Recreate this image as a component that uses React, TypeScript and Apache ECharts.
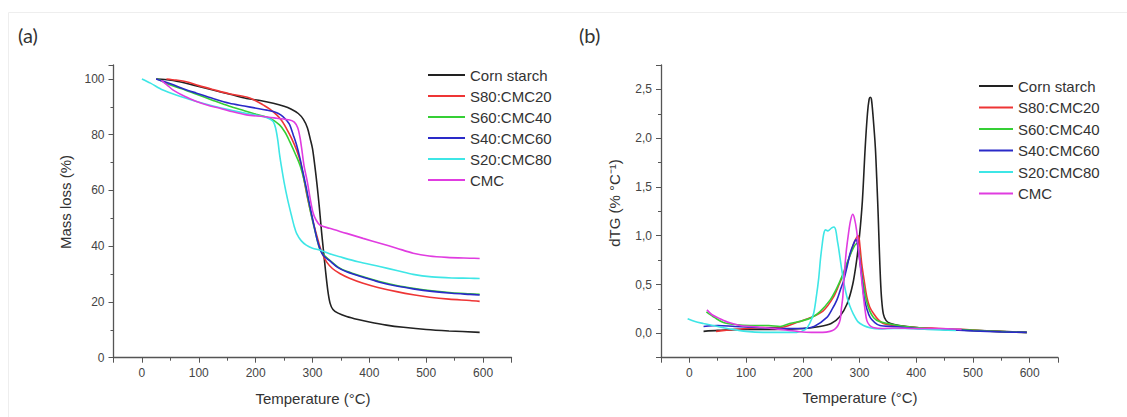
import React, { useEffect, useRef } from "react";
import * as echarts from "echarts";

// ---------- data ----------
const seriesNames = ["Corn starch", "S80:CMC20", "S60:CMC40", "S40:CMC60", "S20:CMC80", "CMC"];
const seriesColors = ["#222222", "#ee3535", "#35cf35", "#2a2ac8", "#3ee6e6", "#e03ce0"];

const xTickValues = [0, 100, 200, 300, 400, 500, 600];
const tgTickValues = [0, 20, 40, 60, 80, 100];
const dtgTickValues = [0, 0.5, 1, 1.5, 2, 2.5];

// (a) TG: [temperature °C, mass %]
const cornTG = [[25,100],[40,99.8],[66,99],[100,97.3],[125,96],[155,94.5],[184,93],[210,92.2],[231,91.3],[250,90.2],[262,89.2],[275,87.6],[284,85.5],[291,82.5],[296,78.5],[300,75],[304,69],[308,62],[312,54],[316,45],[319,39],[323,31],[327,24],[331,19.5],[336,17.3],[345,16],[360,14.8],[380,13.7],[400,12.8],[430,11.7],[460,10.9],[500,10.1],[540,9.6],[594,9.1]];
const s80TG = [[43,100],[60,99.6],[78,99],[100,97.6],[125,96.2],[155,94.6],[184,93.5],[200,92.2],[213,90.7],[225,89.2],[237,87.1],[246,85],[254,82.3],[263,78.8],[272,74.5],[279,70],[285,64],[290,58.5],[296,53],[302,48],[308,43.5],[313,39.8],[318,37],[325,34.3],[335,32],[348,30.2],[365,28.5],[389,26.7],[415,25.2],[448,23.7],[480,22.5],[506,21.7],[540,21],[577,20.5],[594,20.2]];
const s60TG = [[28,100],[49,97.9],[70,96.5],[96,94.5],[125,92.3],[154,90.2],[180,88.6],[201,87.3],[225,85.9],[242,83.5],[252,80.8],[260,77.5],[270,73],[278,69],[286,63],[292,57],[298,51],[305,45],[313,38.8],[320,36.8],[330,35],[345,32.5],[360,31],[390,29],[418,27.3],[450,25.8],[477,24.9],[510,24],[545,23.3],[577,22.9],[594,22.7]];
const s40TG = [[25,100],[40,99],[55,97.9],[75,96.3],[96,94.9],[125,93],[154,91.3],[180,90.3],[201,89.5],[220,88.8],[231,88.3],[240,87.6],[248,86.5],[255,85],[260,83.5],[266,80],[272,76.3],[278,71.5],[283,66.7],[289,61],[295,54.8],[302,48],[308,42.5],[314,38.6],[320,36.5],[330,34.8],[345,32.3],[360,30.8],[390,28.8],[418,27.1],[450,25.6],[477,24.7],[510,23.8],[545,23.1],[577,22.7],[594,22.5]];
const s20TG = [[0,100],[15,98.5],[37,96],[60,94.2],[96,91.9],[125,90.3],[154,88.9],[185,87.6],[213,86.5],[225,85.6],[231,84.7],[235,82.5],[239,78],[242,73],[245,69],[250,63],[256,57],[263,51],[268,47],[272,44.6],[280,42],[289,40.4],[300,39.3],[313,38.6],[330,37.3],[348,36.2],[380,34.4],[418,32.7],[450,31.2],[477,29.9],[510,29],[545,28.6],[577,28.5],[594,28.4]];
const cmcTG = [[34,99.5],[45,97.7],[55,96],[75,93.8],[96,91.9],[120,90.3],[137,89.5],[160,88.2],[184,87.1],[213,86.5],[237,85.9],[260,85.3],[268,84.5],[274,82.5],[278,79],[281,75],[285,69],[291,63],[296,57],[301,52],[306,49.5],[313,47.6],[330,46.4],[360,44.6],[389,42.8],[420,41],[448,39.3],[477,37.5],[505,36.5],[536,36],[577,35.7],[594,35.6]];

// (b) dTG: [temperature °C, % °C^-1]
const cornDTG = [[25,0.02],[50,0.03],[100,0.04],[150,0.04],[200,0.05],[230,0.07],[250,0.1],[265,0.17],[278,0.3],[288,0.5],[295,0.75],[300,1.0],[305,1.35],[310,1.9],[314,2.25],[317,2.4],[319,2.42],[321,2.4],[324,2.22],[328,1.9],[331,1.5],[333,1.2],[335,0.85],[337,0.55],[339,0.35],[342,0.2],[347,0.13],[355,0.1],[370,0.08],[400,0.06],[450,0.04],[500,0.03],[550,0.02],[595,0.01]];
const s80DTG = [[47,0.02],[80,0.04],[100,0.05],[130,0.06],[160,0.06],[189,0.11],[213,0.16],[236,0.23],[254,0.37],[264,0.5],[272,0.61],[280,0.74],[286,0.85],[292,0.95],[298,1.0],[301,0.88],[304,0.71],[308,0.55],[313,0.37],[318,0.27],[325,0.2],[333,0.14],[342,0.1],[360,0.08],[400,0.06],[440,0.05],[480,0.04],[520,0.025],[560,0.015],[595,0.01]];
const s60DTG = [[30,0.22],[45,0.16],[60,0.11],[80,0.09],[107,0.08],[140,0.08],[160,0.07],[177,0.1],[200,0.13],[215,0.16],[230,0.22],[248,0.34],[258,0.44],[266,0.54],[273,0.64],[280,0.75],[288,0.86],[295,0.92],[299,0.85],[302,0.68],[307,0.5],[312,0.34],[318,0.23],[325,0.16],[335,0.12],[350,0.1],[380,0.07],[420,0.05],[470,0.04],[520,0.025],[560,0.015],[595,0.01]];
const s40DTG = [[25,0.07],[50,0.08],[80,0.07],[120,0.06],[160,0.05],[200,0.05],[220,0.07],[242,0.16],[252,0.25],[260,0.34],[266,0.44],[272,0.54],[278,0.68],[283,0.81],[289,0.91],[294,0.96],[298,0.85],[302,0.68],[305,0.52],[308,0.37],[313,0.25],[319,0.16],[327,0.11],[336,0.08],[360,0.07],[400,0.05],[450,0.04],[500,0.025],[550,0.015],[595,0.01]];
const s20DTG = [[-3,0.15],[10,0.12],[25,0.1],[50,0.07],[72,0.045],[100,0.02],[130,0.01],[160,0.01],[189,0.01],[205,0.04],[212,0.1],[219,0.2],[224,0.38],[228,0.56],[231,0.75],[234,0.9],[237,1.02],[240,1.06],[244,1.05],[247,1.06],[251,1.08],[255,1.09],[258,1.06],[261,0.95],[263,0.88],[266,0.76],[269,0.64],[273,0.5],[278,0.37],[283,0.28],[289,0.2],[297,0.12],[307,0.08],[320,0.055],[335,0.045],[360,0.05],[380,0.05],[420,0.04],[470,0.03]];
const cmcDTG = [[31,0.24],[40,0.19],[54,0.15],[70,0.11],[89,0.08],[110,0.07],[130,0.06],[160,0.04],[190,0.02],[215,0.01],[235,0.01],[248,0.02],[256,0.04],[262,0.08],[266,0.14],[268,0.25],[270.5,0.37],[272.5,0.55],[274.6,0.71],[277,0.86],[280.5,1.02],[284,1.15],[288,1.22],[291,1.18],[295,1.05],[298,0.88],[301,0.71],[304,0.54],[307,0.37],[310,0.23],[313,0.13],[318,0.08],[324,0.06],[340,0.05],[360,0.055],[400,0.05],[440,0.05],[480,0.04]];

const tgData = [cornTG, s80TG, s60TG, s40TG, s20TG, cmcTG];
const dtgData = [cornDTG, s80DTG, s60DTG, s40DTG, s20DTG, cmcDTG];

const FONT = "'Liberation Sans', Arial, Helvetica, sans-serif";

export default function App() {
  const ref = useRef<HTMLDivElement>(null);
  useEffect(() => {
    document.body.style.margin = "0";
    document.body.style.background = "#ffffff";
    const chart = echarts.init(ref.current!, null, { renderer: "svg" });

    const axisLine = { show: true, onZero: false, lineStyle: { color: "#555", width: 1.3 } };
    const axisTick = { show: true, inside: false, length: 5, lineStyle: { color: "#555", width: 1 } };
    const minorTick = { show: true, splitNumber: 2, length: 3, lineStyle: { color: "#555", width: 1 } };
    const labelBase = { color: "#444", fontSize: 12, fontFamily: FONT, margin: 9 };
    const near = (v: number, list: number[]) => list.some((t) => Math.abs(t - v) < 1e-6);

    const xAxisCfg = (gridIndex: number) => ({
      type: "value",
      gridIndex,
      min: -50,
      max: 650,
      axisLine,
      axisTick,
      minorTick,
      splitLine: { show: false },
      axisLabel: { ...labelBase, formatter: (v: number) => (near(v, xTickValues) ? String(v) : "") },
    });

    const series: any[] = [];
    seriesNames.forEach((name, i) => {
      series.push({
        name,
        type: "line",
        xAxisIndex: 0,
        yAxisIndex: 0,
        data: tgData[i],
        symbol: "none",
        smooth: 0.3,
        lineStyle: { color: seriesColors[i], width: 1.6 },
        itemStyle: { color: seriesColors[i] },
      });
      series.push({
        name,
        type: "line",
        xAxisIndex: 1,
        yAxisIndex: 1,
        data: dtgData[i],
        symbol: "none",
        smooth: 0.3,
        lineStyle: { color: seriesColors[i], width: 1.6 },
        itemStyle: { color: seriesColors[i] },
      });
    });

    const legendBase = {
      data: seriesNames,
      orient: "vertical",
      icon: "rect",
      itemHeight: 2,
      padding: 0,
      selectedMode: false,
      textStyle: { color: "#333", fontSize: 15, fontFamily: FONT },
    };

    const titleStyle = { fill: "#333", fontSize: 15, fontFamily: FONT, align: "center", verticalAlign: "middle" };

    chart.setOption({
      animation: false,
      backgroundColor: "#ffffff",
      grid: [
        { left: 113.5, top: 65, width: 398, height: 292.7, containLabel: false },
        { left: 661, top: 65, width: 397, height: 292.7, containLabel: false },
      ],
      xAxis: [xAxisCfg(0), xAxisCfg(1)],
      yAxis: [
        {
          type: "value",
          gridIndex: 0,
          min: 0,
          max: 105,
          axisLine,
          axisTick,
          minorTick,
          splitLine: { show: false },
          axisLabel: { ...labelBase, formatter: (v: number) => (near(v, tgTickValues) ? String(v) : "") },
        },
        {
          type: "value",
          gridIndex: 1,
          min: -0.25,
          max: 2.75,
          axisLine,
          axisTick,
          minorTick,
          splitLine: { show: false },
          axisLabel: {
            ...labelBase,
            formatter: (v: number) => (near(v, dtgTickValues) ? v.toFixed(1).replace(".", ",") : ""),
          },
        },
      ],
      legend: [
        { ...legendBase, left: 428, top: 67.5, itemWidth: 37, itemGap: 6 },
        { ...legendBase, left: 979, top: 78.5, itemWidth: 34, itemGap: 6.5 },
      ],
      graphic: [
        { type: "line", shape: { x1: 8.5, y1: 12.5, x2: 1127, y2: 12.5 }, style: { stroke: "#eeeeee", lineWidth: 1 }, silent: true },
        { type: "line", shape: { x1: 8.5, y1: 12.5, x2: 8.5, y2: 417 }, style: { stroke: "#eeeeee", lineWidth: 1 }, silent: true },
        { type: "text", x: 18, y: 35, style: { text: "(a)", fill: "#333", fontSize: 20, fontFamily: "Lato, 'Open Sans', sans-serif", verticalAlign: "middle" } },
        { type: "text", x: 579, y: 35, style: { text: "(b)", fill: "#333", fontSize: 20, fontFamily: "Lato, 'Open Sans', sans-serif", verticalAlign: "middle" } },
        { type: "text", x: 313, y: 398, style: { text: "Temperature (°C)", ...titleStyle } },
        { type: "text", x: 860, y: 397, style: { text: "Temperature (°C)", ...titleStyle } },
        { type: "text", x: 65, y: 202, rotation: Math.PI / 2, style: { text: "Mass loss (%)", ...titleStyle } },
        { type: "text", x: 614, y: 203, rotation: Math.PI / 2, style: { text: "dTG (% °C⁻¹)", ...titleStyle } },
      ],
      series,
    });

    return () => chart.dispose();
  }, []);
  return <div ref={ref} style={{ width: 1127, height: 417 }} />;
}
